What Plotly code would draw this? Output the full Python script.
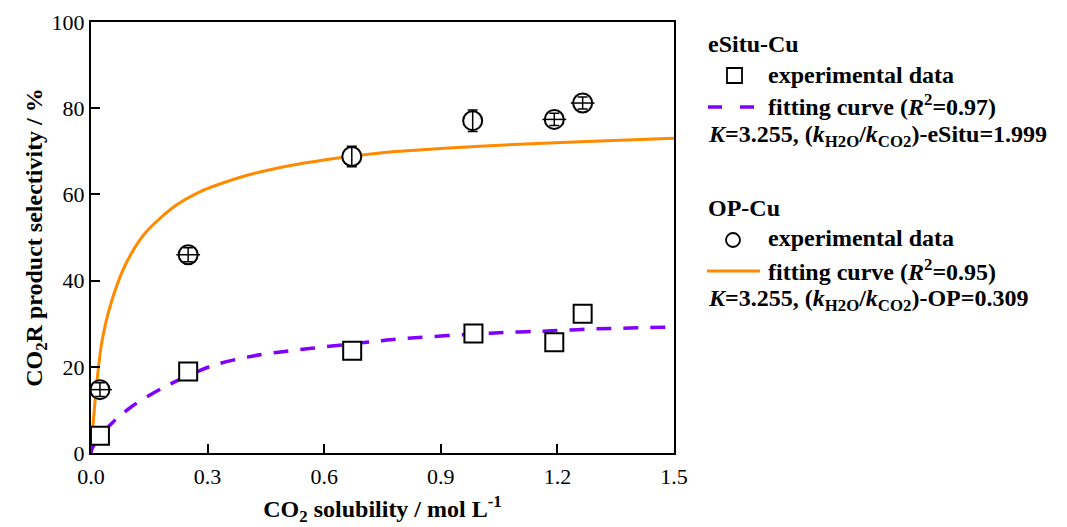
import plotly.graph_objects as go

# ---- data ----
op_x = [0.023, 0.250, 0.671, 0.982, 1.192, 1.265]
op_y = [14.7, 46.0, 68.8, 77.1, 77.4, 81.2]
op_err = [1.6, 1.6, 2.4, 2.5, 1.4, 1.4]
op_midline = [True, True, False, False, True, True]

es_x = [0.023, 0.250, 0.672, 0.984, 1.192, 1.265]
es_y = [4.0, 18.9, 23.7, 27.7, 25.7, 32.3]

# fitted curves
op_fit_x = [0.0, 0.002, 0.0085, 0.0146, 0.0275, 0.049, 0.0875, 0.139, 0.216, 0.280,
            0.319, 0.409, 0.538, 0.666, 0.744, 0.795, 1.001, 1.258, 1.5]
op_fit_y = [0.0, 2.8, 10.0, 16.0, 25.5, 34.0, 43.5, 51.0, 57.3, 60.6,
            62.0, 64.6, 67.1, 68.8, 69.6, 70.0, 71.2, 72.2, 73.0]

es_fit_x = [0.0, 0.002, 0.02, 0.057, 0.105, 0.182, 0.310, 0.405, 0.482, 0.568,
            0.739, 0.795, 1.026, 1.198, 1.301, 1.5]
es_fit_y = [0.0, 0.8, 3.6, 7.2, 10.8, 15.0, 20.2, 22.3, 23.4, 24.3,
            26.0, 26.5, 27.8, 28.4, 28.8, 29.2]

x_ticks = [0.0, 0.3, 0.6, 0.9, 1.2, 1.5]
y_ticks = [0, 20, 40, 60, 80, 100]

ORANGE = "#FF8A00"
PURPLE = "#7F00FF"
FONT = "Liberation Serif"

fig = go.Figure()

fig.add_trace(go.Scatter(x=op_fit_x, y=op_fit_y, mode="lines",
                         line=dict(color=ORANGE, width=3, shape="spline", smoothing=0.8),
                         showlegend=False, hoverinfo="skip"))
fig.add_trace(go.Scatter(x=es_fit_x, y=es_fit_y, mode="lines",
                         line=dict(color=PURPLE, width=3.5, dash="15px,12px", shape="spline",
                                   smoothing=0.8),
                         showlegend=False, hoverinfo="skip"))

fig.add_trace(go.Scatter(x=es_x, y=es_y, mode="markers",
                         marker=dict(symbol="square", size=18, color="white",
                                     line=dict(color="black", width=2)),
                         showlegend=False))
fig.add_trace(go.Scatter(x=op_x, y=op_y, mode="markers",
                         marker=dict(symbol="circle", size=19, color="white",
                                     line=dict(color="black", width=2)),
                         showlegend=False))
fig.add_trace(go.Scatter(x=op_x, y=op_y, mode="markers",
                         marker=dict(size=1, color="rgba(0,0,0,0)"),
                         error_y=dict(type="data", array=op_err, visible=True,
                                      color="black", thickness=1.5, width=5),
                         showlegend=False, hoverinfo="skip"))
mx = [x for x, m in zip(op_x, op_midline) if m]
my = [y for y, m in zip(op_y, op_midline) if m]
fig.add_trace(go.Scatter(x=mx, y=my, mode="markers",
                         marker=dict(symbol="line-ew-open", size=17, color="black",
                                     line=dict(color="black", width=1.5)),
                         showlegend=False, hoverinfo="skip"))

# ---- layout geometry (screen pixels; page has an 8px body offset) ----
OFF = 8
L, R, T, B = 91, 674, 22, 453          # plot area on screen
W, H = 1067, 527


def px(x):
    return (x - L) / (R - L)


def py(y):
    return (B - y) / (B - T)


fs = 24


def label(x, y, text):
    fig.add_annotation(x=px(x), y=py(y), xref="paper", yref="paper", text=text,
                       showarrow=False, xanchor="left", yanchor="middle",
                       font=dict(family=FONT, size=fs, color="black"))


label(706, 44, "<b>eSitu-Cu</b>")
fig.add_shape(type="rect", xref="paper", yref="paper",
              x0=px(727), x1=px(742), y0=py(68), y1=py(83),
              line=dict(color="black", width=1.8), fillcolor="white")
label(766, 75, "<b>experimental data</b>")
fig.add_shape(type="line", xref="paper", yref="paper",
              x0=px(708), x1=px(755), y0=py(107), y1=py(107),
              line=dict(color=PURPLE, width=3.5, dash="14px,18px"))
label(766, 105, "<b>fitting curve (<i>R</i><sup>2</sup>=0.97)</b>")
label(706, 136, "<b><i>K</i>=3.255, (<i>k</i><sub>H2O</sub>/<i>k</i><sub>CO2</sub>)-eSitu=1.999</b>")

label(706, 208, "<b>OP-Cu</b>")
fig.add_shape(type="circle", xref="paper", yref="paper",
              x0=px(726), x1=px(740), y0=py(233), y1=py(247),
              line=dict(color="black", width=1.8), fillcolor="white")
label(766, 238, "<b>experimental data</b>")
fig.add_shape(type="line", xref="paper", yref="paper",
              x0=px(707), x1=px(760), y0=py(271), y1=py(271),
              line=dict(color=ORANGE, width=3))
label(766, 270, "<b>fitting curve (<i>R</i><sup>2</sup>=0.95)</b>")
label(706, 300, "<b><i>K</i>=3.255, (<i>k</i><sub>H2O</sub>/<i>k</i><sub>CO2</sub>)-OP=0.309</b>")

axis_common = dict(showline=True, linecolor="black", linewidth=2, mirror=True,
                   ticks="inside", ticklen=9, tickwidth=1.5, tickcolor="black",
                   showgrid=False, zeroline=False,
                   tickfont=dict(family=FONT, size=22, color="black"))

fig.update_layout(
    width=W, height=H,
    margin=dict(l=L - OFF, r=W - (R - OFF), t=T - OFF, b=H - (B - OFF), autoexpand=False),
    paper_bgcolor="white", plot_bgcolor="white",
    showlegend=False,
    xaxis=dict(range=[0, 1.5], tickvals=x_ticks, tickformat=".1f", ticklabelstandoff=3,
               title=dict(text="<b>CO<sub>2</sub> solubility / mol L<sup>-1</sup></b>",
                          font=dict(family=FONT, size=24, color="black"), standoff=12),
               automargin=False, **axis_common),
    yaxis=dict(range=[0, 100], tickvals=y_ticks,
               title=dict(text="<b>CO<sub>2</sub>R product selectivity / %</b>",
                          font=dict(family=FONT, size=24, color="black"), standoff=2),
               automargin=False, **axis_common),
)

fig.write_html("out.html")
